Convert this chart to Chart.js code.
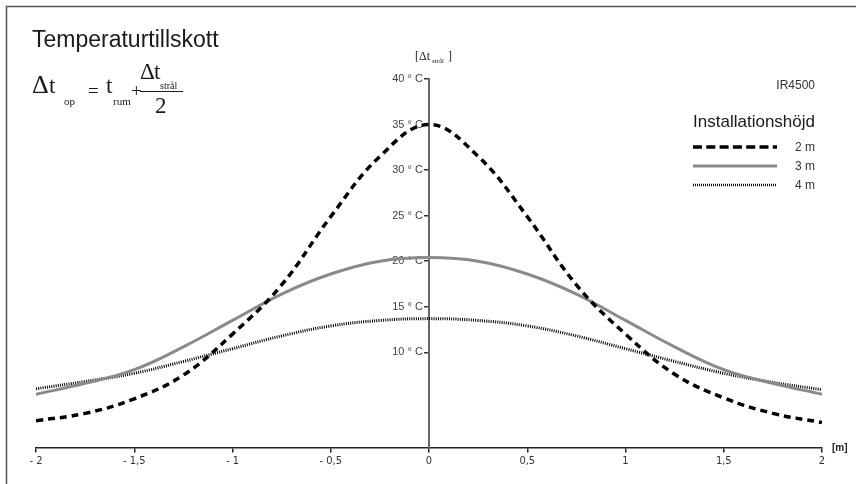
<!DOCTYPE html>
<html>
<head>
<meta charset="utf-8">
<script src="https://cdn.jsdelivr.net/npm/chart.js@4/dist/chart.umd.min.js"></script>
<style>
  html, body { margin: 0; padding: 0; background: #fff; }
  canvas { display: block; }
</style>
</head>
<body>
<canvas id="tempChart" width="856" height="484"></canvas>
<script>
// distance from heater centre [m]
const positions = [-2, -1.75, -1.5, -1.25, -1, -0.75, -0.5, -0.25, 0, 0.25, 0.5, 0.75, 1, 1.25, 1.5, 1.75, 2];
// temperature rise [°C] per mounting height
const height2m = [2.5, 3.3, 4.9, 7.5, 12.0, 17.4, 24.9, 31.5, 35.0, 31.5, 24.9, 17.4, 12.0, 7.6, 5.0, 3.3, 2.3];
const height3m = [5.4, 6.6, 8.1, 10.6, 13.5, 16.4, 18.6, 20.0, 20.4, 20.0, 18.6, 16.4, 13.5, 10.6, 8.1, 6.6, 5.4];
const height4m = [6.0, 6.8, 7.7, 9.0, 10.4, 11.8, 12.9, 13.5, 13.7, 13.5, 12.9, 11.8, 10.4, 9.0, 7.7, 6.7, 5.9];
const seriesLabels = ["2 m", "3 m", "4 m"];
const yTickValues = [10, 15, 20, 25, 30, 35, 40];

const toPoints = (vals) => positions.map((x, i) => ({ x: x, y: vals[i] }));

const fmtX = (v) => {
    const s = String(Math.abs(v)).replace(".", ",");
    return v < 0 ? "- " + s : s;
};

const overlay = {
    id: "overlay",
    afterDraw(chart) {
        const ctx = chart.ctx;
        ctx.save();

        // frame (top + left edge)
        ctx.strokeStyle = "#555";
        ctx.lineWidth = 1.5;
        ctx.beginPath();
        ctx.moveTo(6.5, 484);
        ctx.lineTo(6.5, 6.5);
        ctx.lineTo(856, 6.5);
        ctx.stroke();

        // title
        ctx.fillStyle = "#1a1a1a";
        ctx.textBaseline = "alphabetic";
        ctx.textAlign = "left";
        ctx.font = '23px "Liberation Sans", Arial, sans-serif';
        ctx.fillText("Temperaturtillskott", 32, 47);

        // formula
        const serif = '"Liberation Serif", "Times New Roman", serif';
        ctx.font = "26px " + serif;
        ctx.fillText("\u0394", 32, 93);
        ctx.font = "23px " + serif;
        ctx.fillText("t", 49, 93);
        ctx.font = "11px " + serif;
        ctx.fillText("op", 64, 105);
        ctx.font = "19px " + serif;
        ctx.fillText("=", 88, 97);
        ctx.font = "23px " + serif;
        ctx.fillText("t", 106, 93);
        ctx.font = "11px " + serif;
        ctx.fillText("rum", 113, 105);
        ctx.font = "19px " + serif;
        ctx.fillText("+", 131, 97);
        ctx.font = "23px " + serif;
        ctx.fillText("\u0394", 140, 79);
        ctx.fillText("t", 154, 79);
        ctx.font = "10px " + serif;
        ctx.fillText("strål", 160, 89);
        ctx.fillRect(140, 91, 43, 1);
        ctx.font = "23px " + serif;
        ctx.fillText("2", 155, 113);

        // y axis unit label
        const yScale = chart.scales.y;
        const xScale = chart.scales.x;
        const ax = xScale.getPixelForValue(0);
        ctx.fillStyle = "#222";
        ctx.font = "12px " + serif;
        ctx.fillText("[\u0394t", ax - 14, 60);
        ctx.font = "7px " + serif;
        ctx.fillText("strål", ax + 3, 63);
        ctx.font = "12px " + serif;
        ctx.fillText("]", ax + 19, 60);

        // x axis unit
        ctx.textBaseline = "middle";
        ctx.font = 'bold 10px "Liberation Sans", Arial, sans-serif';
        ctx.fillText("[m]", xScale.right + 10, yScale.bottom);
        ctx.textBaseline = "alphabetic";

        // product + legend
        ctx.textAlign = "right";
        ctx.fillStyle = "#333";
        ctx.font = '12px "Liberation Sans", Arial, sans-serif';
        ctx.fillText("IR4500", 815, 89);
        ctx.fillStyle = "#1a1a1a";
        ctx.font = '17px "Liberation Sans", Arial, sans-serif';
        ctx.fillText("Installationshöjd", 815, 127);

        const legendRows = [147, 166, 185];
        const legendDash = [[9, 4.3], [], [1, 1]];
        const legendWidth = [3.5, 3, 2.5];
        chart.data.datasets.forEach((ds, i) => {
            const y = legendRows[i];
            ctx.strokeStyle = ds.borderColor;
            ctx.lineWidth = legendWidth[i];
            ctx.setLineDash(legendDash[i]);
            ctx.beginPath();
            ctx.moveTo(693, y);
            ctx.lineTo(777, y);
            ctx.stroke();
            ctx.setLineDash([]);
            ctx.fillStyle = "#333";
            ctx.font = '12px "Liberation Sans", Arial, sans-serif';
            ctx.fillText(ds.label, 815, y + 4);
        });

        ctx.restore();
    }
};

new Chart(document.getElementById("tempChart"), {
    type: "line",
    data: {
        datasets: [
            {
                label: seriesLabels[0],
                data: toPoints(height2m),
                borderColor: "#000",
                borderWidth: 3.5,
                borderDash: [7, 5],
                pointRadius: 0,
                tension: 0.4
            },
            {
                label: seriesLabels[1],
                data: toPoints(height3m),
                borderColor: "#8a8a8a",
                borderWidth: 3,
                pointRadius: 0,
                tension: 0.4
            },
            {
                label: seriesLabels[2],
                data: toPoints(height4m),
                borderColor: "#000",
                borderWidth: 3,
                borderDash: [1, 1.2],
                pointRadius: 0,
                tension: 0.4
            }
        ]
    },
    options: {
        responsive: false,
        animation: false,
        devicePixelRatio: 1,
        layout: { padding: { left: 36, right: 34, top: 79, bottom: 36 } },
        plugins: {
            legend: { display: false },
            tooltip: { enabled: false }
        },
        scales: {
            x: {
                type: "linear",
                min: -2,
                max: 2,
                position: { y: -0.5 },
                ticks: {
                    stepSize: 0.5,
                    padding: 3,
                    color: "#333",
                    font: { family: '"Liberation Sans Narrow", "DejaVu Sans Condensed", sans-serif', size: 11 },
                    callback: (v) => fmtX(v),
                    maxRotation: 0
                },
                grid: { drawOnChartArea: false, tickLength: 4, color: "#222", lineWidth: 1.5 },
                border: { color: "#222", width: 1.5 }
            },
            y: {
                type: "linear",
                min: -0.5,
                max: 40,
                position: { x: 0 },
                afterBuildTicks: (scale) => {
                    scale.ticks = yTickValues.map((v) => ({ value: v }));
                },
                ticks: {
                    padding: 1,
                    color: "#444",
                    font: { family: '"Liberation Sans", Arial, sans-serif', size: 11 },
                    // trailing spaces keep the label clear of the axis tick
                    callback: (v) => v + " ° C  "
                },
                grid: { drawOnChartArea: false, tickLength: 4, color: "#333", lineWidth: 1.5 },
                border: { color: "#666", width: 2 }
            }
        }
    },
    plugins: [overlay]
});
</script>
</body>
</html>
